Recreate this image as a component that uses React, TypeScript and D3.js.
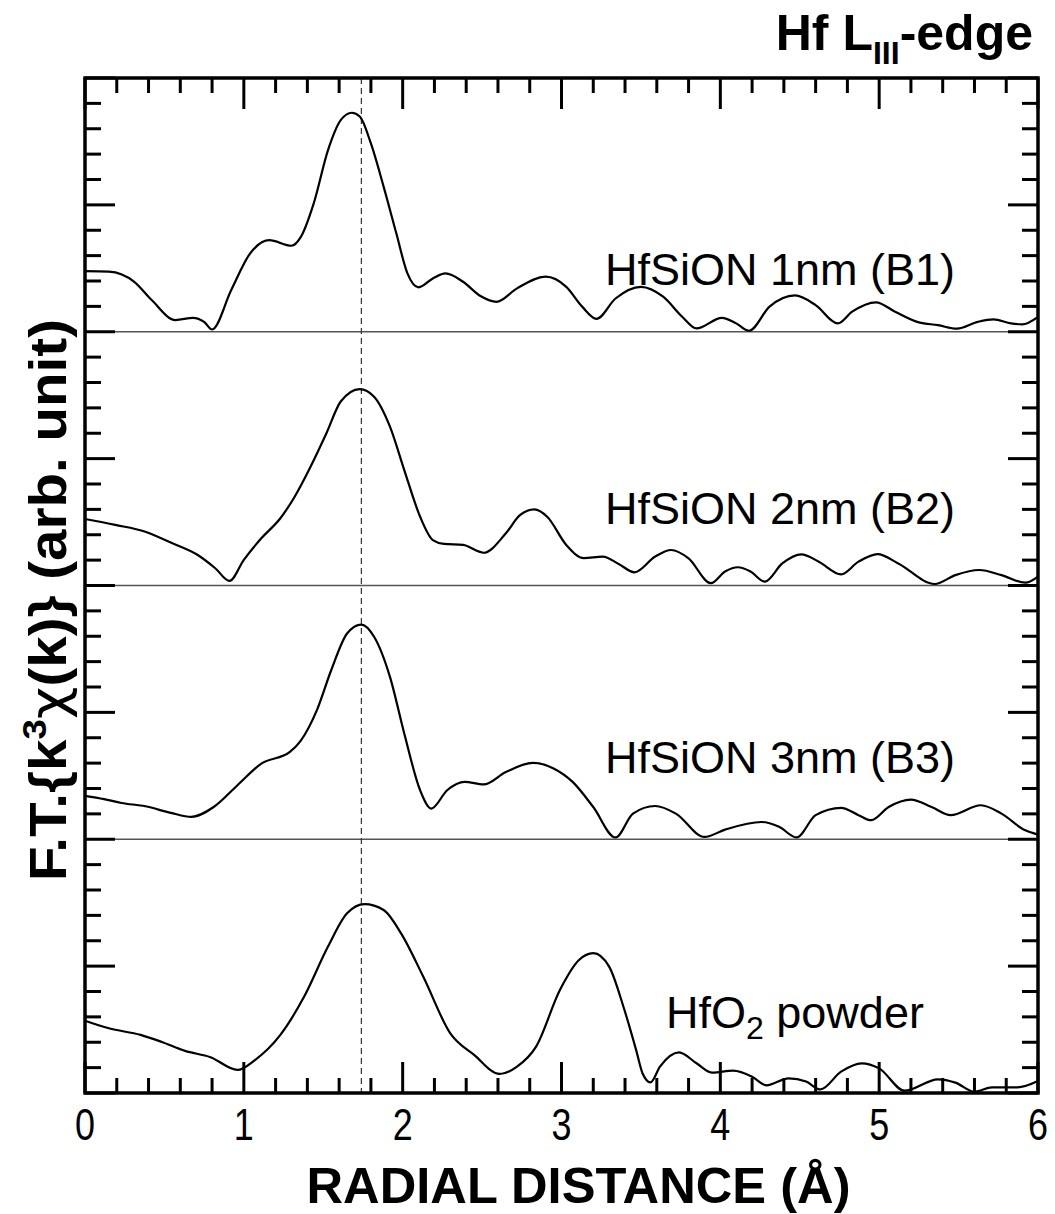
import React from "react";
import * as d3 from "d3";

// radial distance (Å) and F.T. magnitude (arb. unit, tick units above each baseline)
const b1Data = [
  [0, 2.39], [0.15, 2.37], [0.31, 1.97], [0.42, 1.25], [0.57, 0.46], [0.68, 0.55], [0.75, 0.39], [0.8, 0.09],
  [0.92, 1.64], [1.04, 3.09], [1.16, 3.61], [1.3, 3.39], [1.36, 3.75], [1.44, 5.06], [1.53, 7.16], [1.61, 8.34],
  [1.68, 8.63], [1.73, 8.48], [1.8, 7.42], [1.88, 5.72], [1.96, 3.88], [2.03, 2.3], [2.1, 1.75], [2.19, 2.1],
  [2.27, 2.3], [2.38, 1.97], [2.49, 1.41], [2.59, 1.18], [2.72, 1.71], [2.9, 2.17], [3.03, 1.77], [3.13, 0.99],
  [3.22, 0.51], [3.34, 1.31], [3.5, 1.77], [3.64, 1.38], [3.76, 0.59], [3.85, 0.13], [4.01, 0.55], [4.1, 0.33],
  [4.18, 0.04], [4.31, 0.99], [4.47, 1.43], [4.6, 1.05], [4.74, 0.33], [4.83, 0.79], [4.98, 1.16], [5.1, 0.79],
  [5.25, 0.37], [5.37, 0.26], [5.49, 0.12], [5.62, 0.39], [5.72, 0.49], [5.83, 0.33], [5.9, 0.29], [6, 0.59],
];
const b2Data = [
  [0, 2.62], [0.19, 2.39], [0.38, 2.12], [0.54, 1.69], [0.71, 1.2], [0.82, 0.68], [0.91, 0.18], [1.0, 1.01],
  [1.11, 1.86], [1.23, 2.65], [1.32, 3.5], [1.42, 4.68], [1.52, 6.0], [1.61, 7.25], [1.73, 7.74], [1.82, 7.44],
  [1.92, 6.26], [2.01, 4.55], [2.11, 2.71], [2.19, 1.79], [2.26, 1.64], [2.38, 1.6], [2.51, 1.29], [2.65, 2.06],
  [2.74, 2.78], [2.83, 3.0], [2.91, 2.71], [3.03, 1.6], [3.14, 1.08], [3.26, 1.14], [3.36, 0.85], [3.46, 0.52],
  [3.59, 1.14], [3.69, 1.4], [3.8, 1.07], [3.94, 0.09], [4.03, 0.55], [4.11, 0.72], [4.19, 0.55], [4.28, 0.15],
  [4.39, 0.87], [4.51, 1.23], [4.62, 0.94], [4.76, 0.44], [4.87, 0.94], [4.99, 1.24], [5.12, 0.87], [5.35, 0.06],
  [5.48, 0.41], [5.63, 0.61], [5.77, 0.41], [5.92, 0.11], [6, 0.35],
];
const b3Data = [
  [0, 1.71], [0.12, 1.58], [0.23, 1.43], [0.38, 1.3], [0.54, 1.04], [0.67, 0.88], [0.81, 1.27], [0.96, 2.13],
  [1.11, 2.98], [1.29, 3.44], [1.36, 3.9], [1.46, 5.09], [1.55, 6.66], [1.65, 8.11], [1.74, 8.46], [1.82, 7.98],
  [1.92, 6.4], [2.01, 4.17], [2.11, 1.93], [2.18, 1.21], [2.28, 1.93], [2.39, 2.26], [2.51, 2.16], [2.65, 2.65],
  [2.82, 3.01], [2.95, 2.79], [3.07, 2.26], [3.2, 1.27], [3.34, 0.07], [3.45, 1.01], [3.59, 1.31], [3.72, 1.01],
  [3.9, 0.09], [4.03, 0.38], [4.26, 0.68], [4.37, 0.49], [4.48, 0.07], [4.6, 0.95], [4.76, 1.24], [4.87, 0.95],
  [4.95, 0.75], [5.06, 1.27], [5.2, 1.56], [5.33, 1.27], [5.45, 0.95], [5.64, 1.34], [5.77, 1.01], [5.92, 0.35],
  [6, 0.18],
];
const hfo2Data = [
  [0, 2.85], [0.15, 2.55], [0.35, 2.29], [0.48, 2.02], [0.63, 1.66], [0.79, 1.41], [0.96, 0.91], [1.07, 1.3],
  [1.23, 2.29], [1.38, 3.8], [1.53, 5.77], [1.65, 7.08], [1.76, 7.44], [1.88, 7.21], [1.99, 6.29], [2.13, 4.58],
  [2.3, 2.35], [2.45, 1.5], [2.61, 0.75], [2.72, 1.04], [2.84, 1.83], [2.99, 4.06], [3.11, 5.24], [3.2, 5.51],
  [3.3, 4.98], [3.39, 3.4], [3.47, 1.69], [3.51, 0.78], [3.56, 0.42], [3.62, 1.04], [3.74, 1.6], [3.85, 1.17],
  [3.95, 0.8], [4.08, 0.88], [4.2, 0.64], [4.29, 0.3], [4.43, 0.58], [4.54, 0.45], [4.63, 0.14], [4.76, 0.84],
  [4.89, 1.17], [5.0, 0.97], [5.16, 0.09], [5.37, 0.54], [5.48, 0.41], [5.6, 0.05], [5.71, 0.22], [5.87, 0.22],
  [6, 0.47],
];

const seriesNames = ["HfSiON 1nm (B1)", "HfSiON 2nm (B2)", "HfSiON 3nm (B3)", "HfO2 powder"];
const seriesOffsets = [30, 20, 10, 0];
const seriesData = [b1Data, b2Data, b3Data, hfo2Data];
const xTickLabels = [0, 1, 2, 3, 4, 5, 6];
const peakRef = 1.74;

const W = 1055;
const H = 1214;
const left = 85, right = 1038, top = 78, bottom = 1093;
const font = "'Liberation Sans', Arial, sans-serif";

export default function App() {
  const x = d3.scaleLinear().domain([0, 6]).range([left, right]);
  const y = d3.scaleLinear().domain([0, 40]).range([bottom, top]);

  const xMinor = d3.range(0, 30.5, 1).map(i => i / 5);
  const yMinor = d3.range(0, 41, 1);

  const labelPos = [
    { x: 605, y: 285 },
    { x: 605, y: 524 },
    { x: 605, y: 773 },
    { x: 666, y: 1028 },
  ];

  return (
    <svg width={W} height={H} style={{ position: "absolute", left: 0, top: 0, background: "#fff" }}>
      {/* panel baselines */}
      {seriesOffsets.slice(0, 3).map(o => (
        <line key={"b" + o} x1={left} x2={right} y1={y(o)} y2={y(o)} stroke="#555" strokeWidth={1.5} />
      ))}
      {/* reference line at first-shell peak */}
      <line x1={x(peakRef)} x2={x(peakRef)} y1={top} y2={bottom} stroke="#333" strokeWidth={1.2} strokeDasharray="6,4" />

      {seriesData.map((data, i) => {
        const line = d3
          .line<number[]>()
          .x(d => x(d[0]))
          .y(d => y(d[1] + seriesOffsets[i]))
          .curve(d3.curveMonotoneX);
        return <path key={"s" + i} d={line(data) || ""} fill="none" stroke="#000" strokeWidth={2.2} />;
      })}

      {/* x ticks top & bottom */}
      {xMinor.map((v, i) => {
        const len = i % 5 === 0 ? 31 : 15;
        return (
          <g key={"xt" + i}>
            <line x1={x(v)} x2={x(v)} y1={bottom} y2={bottom - len} stroke="#000" strokeWidth={3} />
            <line x1={x(v)} x2={x(v)} y1={top} y2={top + len} stroke="#000" strokeWidth={3} />
          </g>
        );
      })}
      {/* y ticks left & right */}
      {yMinor.map(v => {
        const len = v % 5 === 0 ? 30 : 16;
        return (
          <g key={"yt" + v}>
            <line x1={left} x2={left + len} y1={y(v)} y2={y(v)} stroke="#000" strokeWidth={3} />
            <line x1={right} x2={right - len} y1={y(v)} y2={y(v)} stroke="#000" strokeWidth={3} />
          </g>
        );
      })}
      <rect x={left} y={top} width={right - left} height={bottom - top} fill="none" stroke="#000" strokeWidth={3.5} />

      {/* x tick labels */}
      {xTickLabels.map(v => (
        <text key={"xl" + v} x={x(v)} y={1140} textAnchor="middle" fontFamily={font} fontSize={45}
          textLength={20} lengthAdjust="spacingAndGlyphs">
          {v}
        </text>
      ))}

      {/* series labels */}
      {seriesNames.map((name, i) =>
        i < 3 ? (
          <text key={"n" + i} x={labelPos[i].x} y={labelPos[i].y} fontFamily={font} fontSize={45}>
            {name}
          </text>
        ) : (
          <text key={"n" + i} x={labelPos[i].x} y={labelPos[i].y} fontFamily={font} fontSize={45}>
            HfO<tspan fontSize={32} dy={11}>2</tspan>
            <tspan dy={-11}> powder</tspan>
          </text>
        )
      )}

      {/* title */}
      <text x={1033} y={50} textAnchor="end" fontFamily={font} fontWeight="bold" fontSize={50}>
        Hf L<tspan fontSize={32} dy={14}>III</tspan>
        <tspan dy={-14}>-edge</tspan>
      </text>

      {/* axis titles */}
      <text x={(left + right) / 2 + 17} y={1203} textAnchor="middle" fontFamily={font} fontWeight="bold" fontSize={50}
        textLength={544} lengthAdjust="spacingAndGlyphs">
        RADIAL DISTANCE (Å)
      </text>
      <text transform="translate(66,600) rotate(-90)" textAnchor="middle" fontFamily={font} fontWeight="bold" fontSize={51}
        textLength={562} lengthAdjust="spacingAndGlyphs">
        {"F.T.{k"}<tspan fontSize={33} dy={-20}>3</tspan>
        <tspan dy={20} fontFamily="'DejaVu Sans', sans-serif" fontWeight="normal">{"χ"}</tspan>
        <tspan>{"(k)}"}</tspan>{" (arb. unit)"}
      </text>
    </svg>
  );
}
